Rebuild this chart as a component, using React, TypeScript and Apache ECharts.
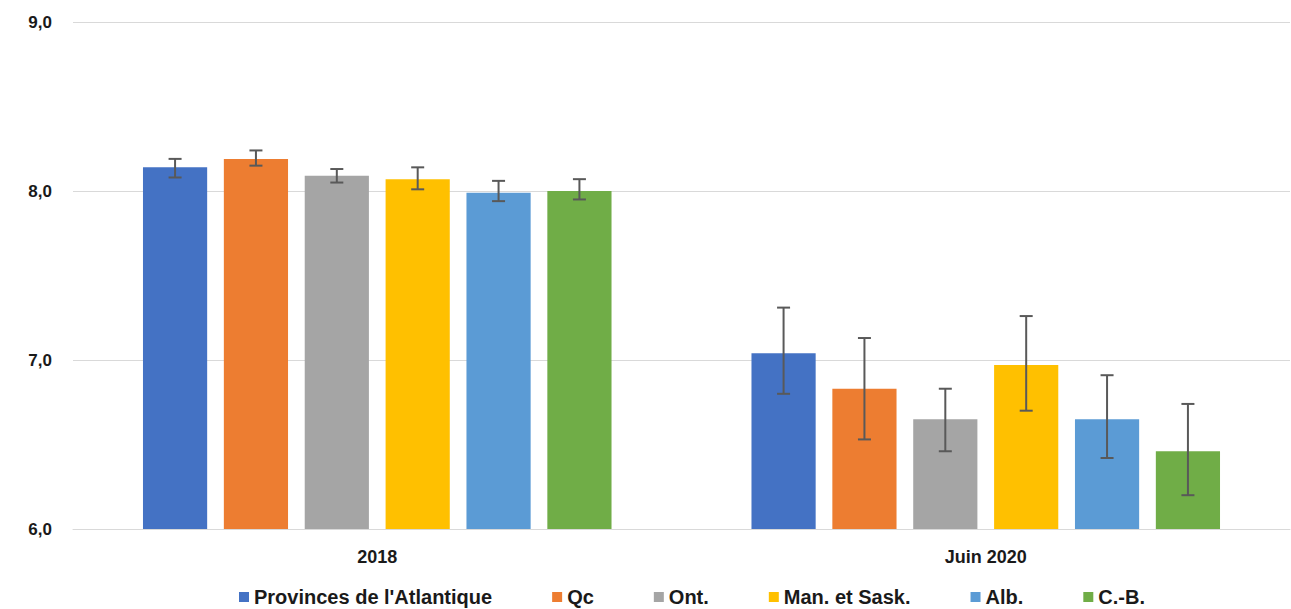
import React, { useEffect, useRef } from "react";
import * as echarts from "echarts";

const categories = ["2018", "Juin 2020"];
const seriesNames = ["Provinces de l'Atlantique", "Qc", "Ont.", "Man. et Sask.", "Alb.", "C.-B."];
const colors = ["#4472C4", "#ED7D31", "#A5A5A5", "#FFC000", "#5B9BD5", "#70AD47"];
const values = [
  [8.14, 7.04],
  [8.19, 6.83],
  [8.09, 6.65],
  [8.07, 6.97],
  [7.99, 6.65],
  [8.0, 6.46],
];
const lows = [
  [8.08, 6.8],
  [8.15, 6.53],
  [8.05, 6.46],
  [8.01, 6.7],
  [7.94, 6.42],
  [7.95, 6.2],
];
const highs = [
  [8.19, 7.31],
  [8.24, 7.13],
  [8.13, 6.83],
  [8.14, 7.26],
  [8.06, 6.91],
  [8.07, 6.74],
];
const yTicks = { min: 6, max: 9, interval: 1 };

const CAT_GAP = 0.23;
const BAR_GAP = 0.26;
const FONT = "'Liberation Sans', sans-serif";

export default function App() {
  const ref = useRef<HTMLDivElement>(null);
  useEffect(() => {
    document.body.style.margin = "0";
    const chart = echarts.init(ref.current!, null, { renderer: "svg" });
    const n = seriesNames.length;
    const barSeries = seriesNames.map((name, i) => ({
      name,
      type: "bar",
      data: values[i],
      itemStyle: { color: colors[i] },
      barGap: BAR_GAP * 100 + "%",
      barCategoryGap: CAT_GAP * 100 + "%",
    }));
    const errSeries = seriesNames.map((name, i) => ({
      name: name + "_err",
      type: "custom",
      z: 10,
      data: categories.map((_, c) => [c, lows[i][c], highs[i][c]]),
      renderItem: (params: any, api: any) => {
        const c = api.value(0);
        const lo = api.coord([c, api.value(1)]);
        const hi = api.coord([c, api.value(2)]);
        const band = api.size([1, 0])[0];
        const usable = band * (1 - CAT_GAP);
        const bw = usable / (n + (n - 1) * BAR_GAP);
        const offset = -usable / 2 + i * bw * (1 + BAR_GAP) + bw / 2;
        const x = lo[0] + offset;
        const cap = 6.5;
        const style = { stroke: "#595959", lineWidth: 2 };
        return {
          type: "group",
          children: [
            { type: "line", shape: { x1: x, y1: hi[1], x2: x, y2: lo[1] }, style },
            { type: "line", shape: { x1: x - cap, y1: hi[1], x2: x + cap, y2: hi[1] }, style },
            { type: "line", shape: { x1: x - cap, y1: lo[1], x2: x + cap, y2: lo[1] }, style },
          ],
        };
      },
      encode: { x: 0, y: [1, 2] },
      tooltip: { show: false },
    }));
    chart.setOption({
      animation: false,
      textStyle: { fontFamily: FONT },
      grid: { left: 73, right: 1, top: 22, bottom: 80 },
      xAxis: {
        type: "category",
        data: categories,
        axisTick: { show: false },
        axisLine: { lineStyle: { color: "#d9d9d9", width: 1 } },
        axisLabel: { color: "#1a1a1a", fontWeight: "bold", fontSize: 18, fontFamily: FONT, margin: 19 },
      },
      yAxis: {
        type: "value",
        min: yTicks.min,
        max: yTicks.max,
        interval: yTicks.interval,
        axisLabel: {
          color: "#1a1a1a",
          fontWeight: "bold",
          fontSize: 17,
          fontFamily: FONT,
          margin: 21,
          formatter: (v: number) => v.toFixed(1).replace(".", ","),
        },
        splitLine: { lineStyle: { color: "#d9d9d9", width: 1 } },
      },
      legend: {
        data: seriesNames,
        top: 582,
        left: 234,
        itemWidth: 10,
        itemHeight: 10,
        itemGap: 60,
        icon: "rect",
        textStyle: { color: "#1a1a1a", fontWeight: "bold", fontSize: 20, fontFamily: FONT },
      },
      series: [...barSeries, ...errSeries],
    });
    return () => chart.dispose();
  }, []);
  return <div ref={ref} style={{ width: 1291, height: 609 }} />;
}
